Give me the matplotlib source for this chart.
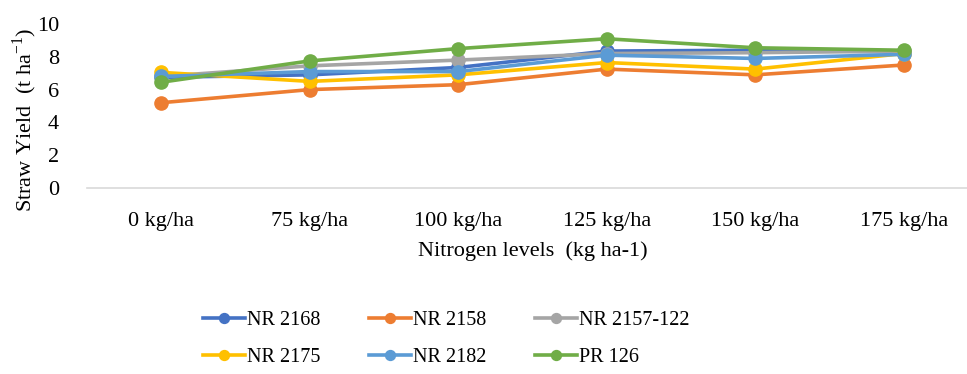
import numpy as np
import matplotlib.pyplot as plt

levels = ["0 kg/ha", "75 kg/ha", "100 kg/ha", "125 kg/ha", "150 kg/ha", "175 kg/ha"]
nr2168 = [6.75, 6.9, 7.35, 8.35, 8.4, 8.3]
nr2158 = [5.2, 6.0, 6.3, 7.25, 6.9, 7.5]
nr2157_122 = [6.8, 7.45, 7.8, 8.2, 8.25, 8.35]
nr2175 = [7.05, 6.5, 6.9, 7.65, 7.25, 8.2]
nr2182 = [6.8, 7.1, 7.1, 8.1, 7.9, 8.15]
pr126 = [6.45, 7.75, 8.5, 9.1, 8.55, 8.4]

series = [("NR 2168", nr2168, "#4472C4"),
          ("NR 2158", nr2158, "#ED7D31"),
          ("NR 2157-122", nr2157_122, "#A5A5A5"),
          ("NR 2175", nr2175, "#FFC000"),
          ("NR 2182", nr2182, "#5B9BD5"),
          ("PR 126", pr126, "#70AD47")]

plt.rcParams["font.family"] = ["Liberation Serif", "DejaVu Serif"]
FS = 16

fig = plt.figure(figsize=(9.67, 3.74), dpi=100)
ax = fig.add_axes([87 / 967, (374 - 188) / 374, 891 / 967, 164 / 374])

x = np.arange(len(levels))
for name, vals, col in series:
    ax.plot(x, vals, color=col, lw=2.6, marker="o", ms=9.5, label=name)

ax.set_xlim(-0.5, len(levels) - 0.5)
ax.set_ylim(0, 10)
ax.set_yticks([0, 2, 4, 6, 8, 10])
ax.set_xticks(x)
ax.set_xticklabels(levels)
ax.tick_params(axis="both", length=0, labelsize=FS, labelcolor="black")
ax.tick_params(axis="x", pad=17)
ax.tick_params(axis="y", pad=20)
for s in ["top", "right", "left"]:
    ax.spines[s].set_visible(False)
ax.spines["bottom"].set_color("#D9D9D9")
ax.spines["bottom"].set_linewidth(1.2)

ax.set_xlabel("Nitrogen levels  (kg ha-1)", fontsize=FS, labelpad=8)
fig.text(25 / 967, 1 - 120 / 374, "Straw Yield  (t ha$^{\\mathregular{-1}}$)", rotation=90,
         fontsize=FS, ha="center", va="center")

# legend fills row by row, matplotlib fills column by column -> reorder
handles, labels = ax.get_legend_handles_labels()
order = [0, 3, 1, 4, 2, 5]
fig.legend([handles[i] for i in order], [labels[i] for i in order],
           loc="center", bbox_to_anchor=(446 / 967, 1 - 339 / 374),
           ncol=3, frameon=False, fontsize=14.5, handlelength=2.1, handletextpad=0.1,
           columnspacing=2.4, labelspacing=0.85, markerscale=0.75)

fig.savefig("out.png", dpi=100)
